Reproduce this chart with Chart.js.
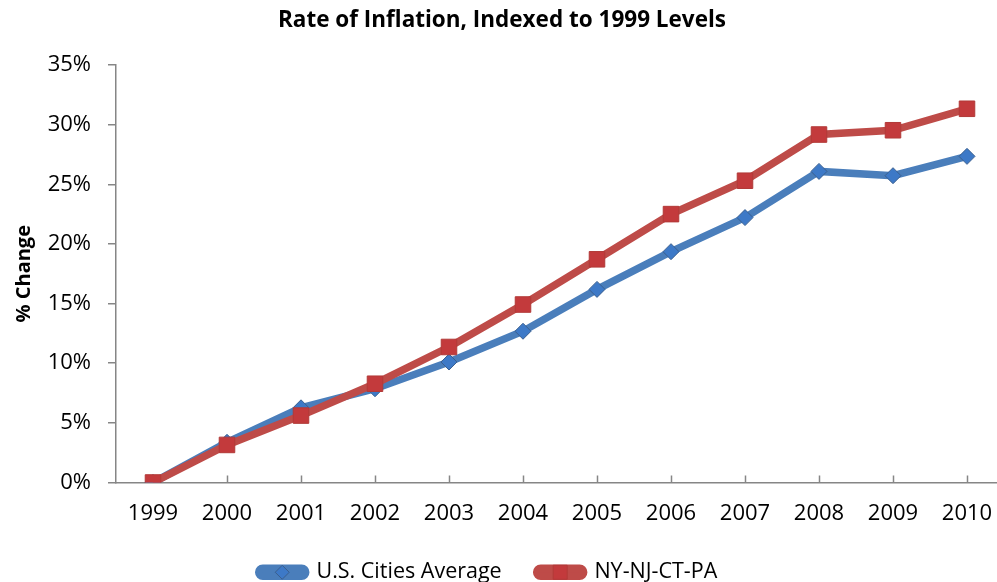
<!DOCTYPE html>
<html>
<head>
<meta charset="utf-8">
<script src="https://cdn.jsdelivr.net/npm/chart.js@4.4.1/dist/chart.umd.min.js"></script>
<style>
  html, body { margin: 0; padding: 0; background: #fff; }
  #wrap { width: 997px; height: 582px; overflow: hidden; position: relative; }
  canvas { display: block; }
</style>
</head>
<body>
<div id="wrap">
  <canvas id="chart" width="1016" height="593"></canvas>
</div>
<script>
// 数据：近似值（%）
const years = ['1999', '2000', '2001', '2002', '2003', '2004', '2005', '2006', '2007', '2008', '2009', '2010']
const usCities = [0, 3.37, 6.26, 7.86, 10.1, 12.68, 16.19, 19.35, 22.21, 26.08, 25.72, 27.34]
const nyNjCtPa = [0, 3.15, 5.61, 8.28, 11.36, 14.92, 18.71, 22.5, 25.3, 29.17, 29.53, 31.33]
const yTicks = [0, 5, 10, 15, 20, 25, 30, 35]

const axisColor = '#868686'
const blue = '#4a7ebb'
const red = '#be4b48'
const markerFill = ['#3d79c7', '#c33a3c']
const markerEdge = ['#3a5f8f', '#b23a38']

Chart.defaults.font.family = "'Open Sans', 'DejaVu Sans', sans-serif"
Chart.defaults.color = '#000'

// x 轴的刻度线朝内
const innerTicks = {
  id: 'innerTicks',
  beforeDatasetsDraw(chart) {
    const x = chart.scales.x
    const ctx = chart.ctx
    const bottom = chart.chartArea.bottom
    ctx.save()
    ctx.strokeStyle = axisColor
    ctx.lineWidth = 1.5
    ctx.beginPath()
    x.ticks.forEach((t, i) => {
      const px = Math.round(x.getPixelForTick(i)) + 0.5
      ctx.moveTo(px, bottom)
      ctx.lineTo(px, bottom - 7)
    })
    ctx.stroke()
    ctx.restore()
  }
}

// 图例整体左移一点，并在线段中间补上标记
const legendTweak = {
  id: 'legendTweak',
  afterLayout(chart) {
    const lg = chart.legend
    if (!lg) return
    lg.left -= 14
    lg.right -= 14
  },
  afterDraw(chart) {
    const lg = chart.legend
    if (!lg || !lg.legendHitBoxes) return
    const ctx = chart.ctx
    const bw = lg.options.labels.boxWidth
    const fs = lg.options.labels.font.size
    lg.legendHitBoxes.forEach((h, i) => {
      const cx = h.left + bw / 2
      const cy = h.top + fs / 2
      ctx.save()
      ctx.fillStyle = markerFill[i]
      ctx.strokeStyle = markerEdge[i]
      ctx.lineWidth = 1
      ctx.beginPath()
      if (i === 0) {
        const r = 7
        ctx.moveTo(cx - r, cy); ctx.lineTo(cx, cy - r); ctx.lineTo(cx + r, cy); ctx.lineTo(cx, cy + r)
        ctx.closePath()
      } else {
        const s = 7
        ctx.rect(cx - s, cy - s, 2 * s, 2 * s)
      }
      ctx.fill()
      ctx.stroke()
      ctx.restore()
    })
  }
}

new Chart(document.getElementById('chart'), {
  type: 'line',
  data: {
    labels: years,
    datasets: [
      {
        label: 'U.S. Cities Average',
        data: usCities,
        order: 1,
        borderColor: blue,
        backgroundColor: blue,
        borderWidth: 7.5,
        pointStyle: 'rectRot',
        pointRadius: 8,
        pointBackgroundColor: markerFill[0],
        pointBorderColor: markerEdge[0],
        pointBorderWidth: 1,
        tension: 0
      },
      {
        label: 'NY-NJ-CT-PA',
        data: nyNjCtPa,
        order: 0,
        borderColor: red,
        backgroundColor: red,
        borderWidth: 7.5,
        pointStyle: 'rect',
        pointRadius: 11,
        pointBackgroundColor: markerFill[1],
        pointBorderColor: markerEdge[1],
        pointBorderWidth: 1,
        tension: 0
      }
    ]
  },
  options: {
    responsive: false,
    animation: false,
    layout: { padding: { left: 0, right: 12, top: 0, bottom: 0 } },
    plugins: {
      title: {
        display: true,
        text: 'Rate of Inflation, Indexed to 1999 Levels',
        font: { size: 22.5, weight: 'bold' },
        padding: { top: 7, bottom: 31 },
        color: '#000'
      },
      legend: {
        position: 'bottom',
        labels: {
          boxWidth: 47,
          boxHeight: 8,
          useBorderRadius: true,
          borderRadius: 4,
          padding: 35,
          font: { size: 21.5 },
          color: '#000',
          sort: (a, b) => a.datasetIndex - b.datasetIndex
        }
      },
      tooltip: { enabled: false }
    },
    scales: {
      x: {
        offset: true,
        grid: { drawOnChartArea: false, drawTicks: false, offset: false },
        border: { display: true, color: axisColor, width: 1.5 },
        ticks: { padding: 18, font: { size: 22 }, color: '#000', maxRotation: 0 },
        afterFit: (s) => { s.height = 44 }
      },
      y: {
        min: yTicks[0],
        max: yTicks[yTicks.length - 1],
        afterBuildTicks: (s) => { s.ticks = yTicks.map(v => ({ value: v })) },
        grid: { drawOnChartArea: false, drawTicks: true, tickLength: 8, color: axisColor, lineWidth: 1.5 },
        border: { display: true, color: axisColor, width: 1.5 },
        ticks: {
          padding: 17,
          font: { size: 22 },
          color: '#000',
          callback: (v) => v + '%'
        },
        title: {
          display: true,
          text: '% Change',
          font: { size: 20, weight: 'bold' },
          padding: { top: 12, bottom: 0 },
          color: '#000'
        },
        afterFit: (s) => { s.width = 116 }
      }
    }
  },
  plugins: [innerTicks, legendTweak]
})
</script>
</body>
</html>
